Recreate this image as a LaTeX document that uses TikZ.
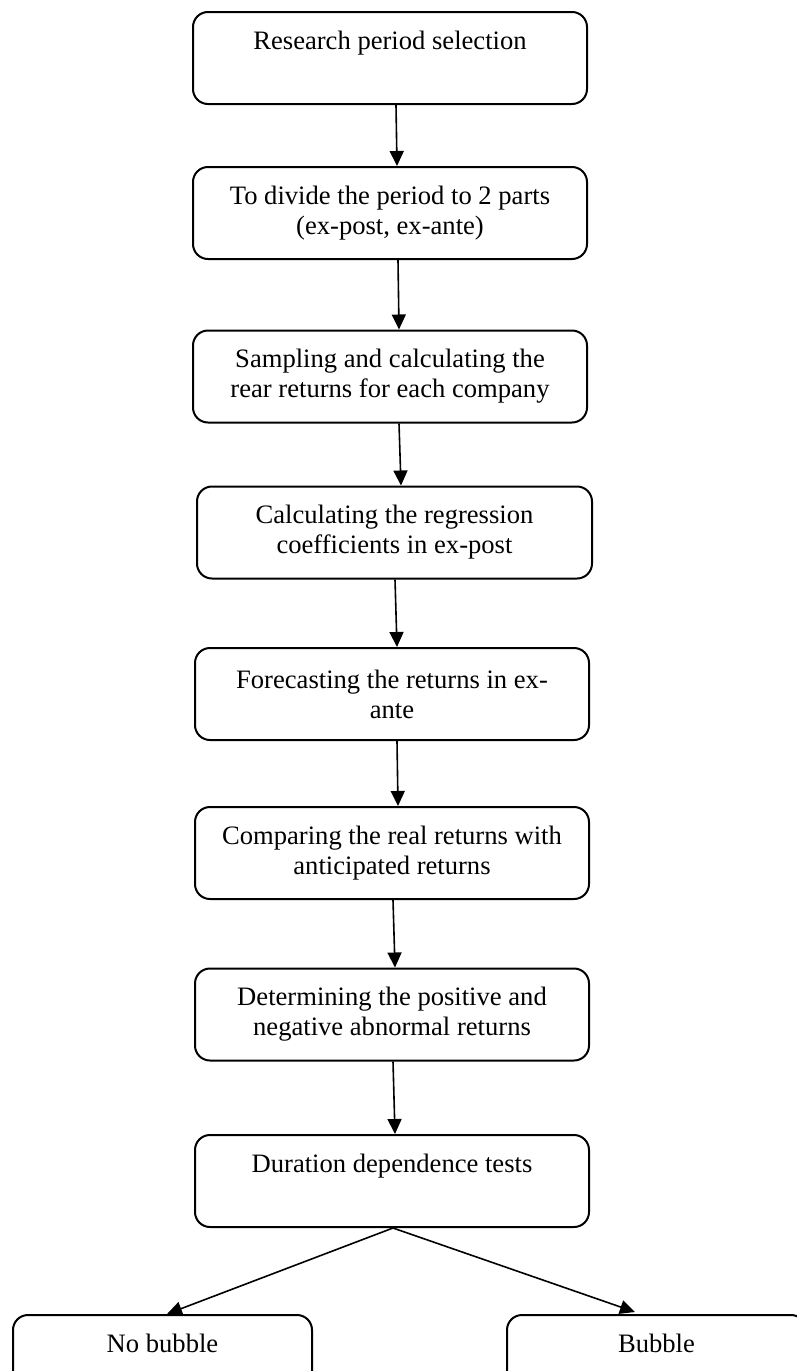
\documentclass[tikz,border=0pt]{standalone}
\usepackage{fontspec}
\setmainfont{Liberation Serif}
\usetikzlibrary{arrows.meta,positioning}
\tikzset{
  stepbox/.style={draw, line width=1pt, rounded corners=7.5pt, minimum height=46pt,
    align=center, inner sep=0pt, font=\fontsize{13.3}{15}\selectfont},
  arr/.style={line width=0.8pt, -{Triangle[length=7.5pt,width=7pt]}},
  splitline/.style={line width=0.8pt, -{Triangle[length=7.5pt,width=7pt]}}
}
\begin{document}
\begin{tikzpicture}[x=0.5pt,y=-0.5pt]
\clip (0,0) rectangle (797,1371);
\fill[white] (0,0) rectangle (797,1371);
\node[stepbox, minimum width=197pt] (b1) at (390,58) {\strut Research period selection\\\strut};
\node[stepbox, minimum width=197pt] (b2) at (390,213) {To divide the period to 2 parts\\(ex-post, ex-ante)};
\node[stepbox, minimum width=197pt] (b3) at (390,376.5) {Sampling and calculating the\\rear returns for each company};
\node[stepbox, minimum width=197.5pt] (b4) at (394.5,532.5) {Calculating the regression\\coefficients in ex-post};
\node[stepbox, minimum width=197pt] (b5) at (392,694) {Forecasting the returns in ex-\\ante};
\node[stepbox, minimum width=197pt] (b6) at (392,853) {Comparing the real returns with\\anticipated returns};
\node[stepbox, minimum width=197pt] (b7) at (392,1014.5) {Determining the positive and\\negative abnormal returns};
\node[stepbox, minimum width=197pt] (b8) at (392,1181) {\strut Duration dependence tests\\\strut};
\node[stepbox, minimum width=149.5pt] (nb) at (162.5,1361) {\strut No bubble\\\strut};
\node[stepbox, minimum width=149.5pt] (bb) at (656.5,1361) {\strut Bubble\\\strut};
\draw[arr] ([xshift=3pt]b1.south) -- ([xshift=3.5pt]b2.north);
\draw[arr] ([xshift=4pt]b2.south) -- ([xshift=4.5pt]b3.north);
\draw[arr] ([xshift=4.5pt]b3.south) -- ([xshift=3.25pt]b4.north);
\draw[arr] ([xshift=0.25pt]b4.south) -- ([xshift=2.5pt]b5.north);
\draw[arr] ([xshift=2.5pt]b5.south) -- ([xshift=3pt]b6.north);
\draw[arr] ([xshift=0.5pt]b6.south) -- ([xshift=1.5pt]b7.north);
\draw[arr] ([xshift=0.5pt]b7.south) -- ([xshift=1.5pt]b8.north);
\draw[splitline] ([xshift=0.5pt]b8.south) -- ([xshift=2.25pt]nb.north);
\draw[splitline] ([xshift=0.5pt]b8.south) -- ([xshift=-10.75pt,yshift=1pt]bb.north);
\end{tikzpicture}
\end{document}
